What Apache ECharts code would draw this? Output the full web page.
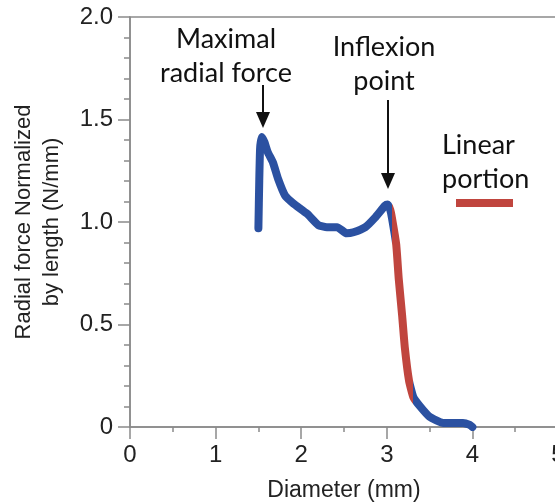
<!DOCTYPE html>
<html>
<head>
<meta charset="utf-8">
<script src="https://cdn.jsdelivr.net/npm/echarts@6/dist/echarts.min.js"></script>
<style>
  html, body { margin: 0; padding: 0; background: #fff; }
  #chart { width: 555px; height: 504px; }
</style>
</head>
<body>
<div id="chart"></div>
<script>
// values
const diameter = [1.50, 1.51, 1.52, 1.54, 1.57, 1.61, 1.67, 1.73, 1.81, 1.91, 2.07, 2.20, 2.30, 2.42, 2.53, 2.61, 2.75, 2.86, 2.98, 3.01, 3.04, 3.06, 3.11, 3.14, 3.18, 3.21, 3.26, 3.31, 3.39, 3.50, 3.66, 3.89, 3.97, 4.00]
const force    = [0.97, 1.20, 1.36, 1.415, 1.39, 1.34, 1.29, 1.21, 1.13, 1.09, 1.04, 0.985, 0.975, 0.975, 0.945, 0.95, 0.975, 1.02, 1.08, 1.085, 1.06, 1.02, 0.89, 0.72, 0.54, 0.39, 0.225, 0.146, 0.10, 0.05, 0.02, 0.02, 0.01, 0.0]
const linearStart = 3.06
const linearEnd = 3.31
const xTicks = [0, 1, 2, 3, 4, 5]
const yTicks = [0, 0.5, 1.0, 1.5, 2.0]

const BLUE = '#2b51a1'
const RED = '#c0453e'
const AXIS = '#8a8a8a'
const axisFont = "'Liberation Sans', Arial, sans-serif"
const noteFont = 'Lato, sans-serif'

const chart = echarts.init(document.getElementById('chart'))
const points = diameter.map((d, i) => [d, force[i]])

function arrow(x, y1, y2) {
  return {
    type: 'group',
    children: [
      { type: 'line', shape: { x1: x, y1: y1, x2: x, y2: y2 - 14 }, style: { stroke: '#111', lineWidth: 2 } },
      { type: 'polygon', shape: { points: [[x - 7, y2 - 16], [x + 7, y2 - 16], [x, y2]] }, style: { fill: '#111' } }
    ]
  }
}

chart.setOption({
  animation: false,
  grid: { left: 130, top: 17, width: 428, height: 410, outerBoundsMode: 'none', containLabel: false,
    show: true, borderColor: AXIS, borderWidth: 1.5 },
  xAxis: {
    type: 'value', min: xTicks[0], max: xTicks[xTicks.length - 1], interval: 1,
    name: 'Diameter (mm)', nameLocation: 'middle', nameGap: 52,
    nameTextStyle: { fontFamily: axisFont, fontSize: 23, color: '#222' },
    axisLine: { lineStyle: { color: AXIS, width: 1.5 } },
    axisTick: { length: 12, lineStyle: { color: AXIS, width: 1.5 } },
    minorTick: { show: true, splitNumber: 2, length: 5, lineStyle: { color: AXIS, width: 1.5 } },
    axisLabel: { fontFamily: axisFont, fontSize: 24, color: '#222', margin: 16 },
    splitLine: { show: false }
  },
  yAxis: {
    type: 'value', min: yTicks[0], max: yTicks[yTicks.length - 1], interval: 0.5,
    name: 'Radial force Normalized\nby length (N/mm)', nameLocation: 'middle', nameGap: 64,
    nameTextStyle: { fontFamily: axisFont, fontSize: 22, color: '#222', lineHeight: 28 },
    axisLine: { show: true, lineStyle: { color: AXIS, width: 1.5 } },
    axisTick: { show: true, length: 12, lineStyle: { color: AXIS, width: 1.5 } },
    minorTick: { show: true, splitNumber: 5, length: 6, lineStyle: { color: AXIS, width: 1.5 } },
    axisLabel: { fontFamily: axisFont, fontSize: 24, color: '#222', margin: 17,
      formatter: v => v === 0 ? '0' : v.toFixed(1) },
    splitLine: { show: false }
  },
  visualMap: {
    show: false, type: 'piecewise', dimension: 0, seriesIndex: 0,
    pieces: [
      { lt: linearStart, color: BLUE },
      { gte: linearStart, lte: linearEnd, color: RED },
      { gt: linearEnd, color: BLUE }
    ]
  },
  series: [{
    type: 'line', data: points, smooth: 0.15, showSymbol: false,
    lineStyle: { width: 8, cap: 'round', join: 'round' }
  }],
  graphic: [
    { type: 'text', x: 226, y: 22,
      style: { text: 'Maximal\nradial force', font: '27px ' + noteFont, fill: '#111', align: 'center', lineHeight: 34 } },
    { type: 'text', x: 384, y: 30,
      style: { text: 'Inflexion\npoint', font: '27px ' + noteFont, fill: '#111', align: 'center', lineHeight: 34 } },
    { type: 'text', x: 442, y: 128,
      style: { text: 'Linear\nportion', font: '27px ' + noteFont, fill: '#111', align: 'left', lineHeight: 34 } },
    { type: 'rect', shape: { x: 456, y: 199, width: 57, height: 8 }, style: { fill: RED } },
    arrow(263, 85, 128),
    arrow(388, 100, 189)
  ]
})
</script>
</body>
</html>
